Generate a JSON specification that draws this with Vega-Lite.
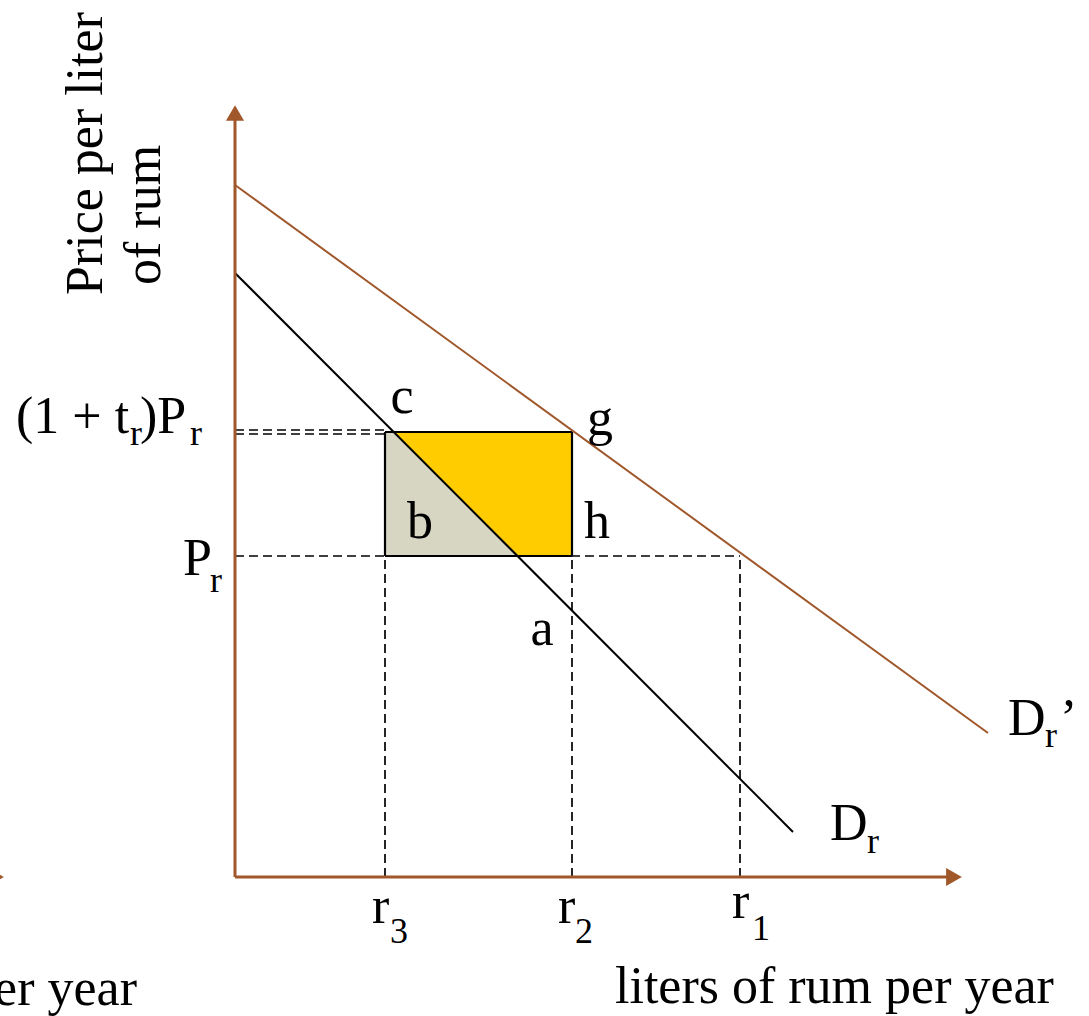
{
  "$schema": "https://vega.github.io/schema/vega-lite/v6.json",
  "width": 1089,
  "height": 1016,
  "padding": 0,
  "autosize": {"type": "none"},
  "background": "white",
  "config": {"view": {"stroke": null}},
  "datasets": {
    "gray": [{"q": 150, "p": 445, "p2": 321}, {"q": 159, "p": 445, "p2": 321}, {"q": 283, "p": 321, "p2": 321}],
    "gold": [{"q": 159, "p": 445, "p2": 445}, {"q": 283, "p": 445, "p2": 321}, {"q": 337, "p": 445, "p2": 321}],
    "dashes": [
      {"q": 0, "p": 447, "q2": 150, "p2": 447},
      {"q": 0, "p": 443, "q2": 150, "p2": 443},
      {"q": 0, "p": 321, "q2": 505, "p2": 321},
      {"q": 150, "p": 0, "q2": 150, "p2": 321},
      {"q": 337, "p": 0, "q2": 337, "p2": 321},
      {"q": 505, "p": 0, "q2": 505, "p2": 321}
    ],
    "rect": [
      {"q": 150, "p": 445, "q2": 337, "p2": 445},
      {"q": 150, "p": 321, "q2": 337, "p2": 321},
      {"q": 150, "p": 321, "q2": 150, "p2": 445},
      {"q": 337, "p": 321, "q2": 337, "p2": 445}
    ],
    "curves": [
      {"curve": "Dr", "q": 0, "p": 604, "q2": 558, "p2": 45},
      {"curve": "Dr'", "q": 0, "p": 692, "q2": 753, "p2": 144}
    ],
    "axes": [
      {"q": 0, "p": 0, "q2": 0, "p2": 758},
      {"q": 0, "p": 0, "q2": 713, "p2": 0},
      {"q": -260, "p": 0, "q2": -242, "p2": 0}
    ],
    "arrowUp": [{"q": 0, "p": 764}],
    "arrowRight": [{"q": 719, "p": 0}, {"q": -239, "p": 0}],
    "mainLeft": [
      {"q": -219, "p": 444, "label": "(1 + t"},
      {"q": -95, "p": 444, "label": ")P"},
      {"q": -52, "p": 302, "label": "P"},
      {"q": 137, "p": -46, "label": "r"},
      {"q": 323, "p": -46, "label": "r"},
      {"q": 497, "p": -41, "label": "r"},
      {"q": 595, "p": 37, "label": "D"},
      {"q": 773, "p": 142, "label": "D"},
      {"q": 825, "p": 142, "label": "’"},
      {"q": 380, "p": -126, "label": "liters of rum per year"}
    ],
    "mainCenter": [
      {"q": 167, "p": 464, "label": "c"},
      {"q": 365, "p": 442, "label": "g"},
      {"q": 185, "p": 339, "label": "b"},
      {"q": 362, "p": 339, "label": "h"},
      {"q": 307, "p": 232, "label": "a"}
    ],
    "sub": [
      {"q": -105, "p": 432, "label": "r"},
      {"q": -45, "p": 432, "label": "r"},
      {"q": -25, "p": 285, "label": "r"},
      {"q": 155, "p": -66, "label": "3"},
      {"q": 340, "p": -66, "label": "2"},
      {"q": 517, "p": -63, "label": "1"},
      {"q": 632, "p": 24, "label": "r"},
      {"q": 810, "p": 130, "label": "r"}
    ],
    "cut": [{"q": -98, "p": -128, "label": "liters of rum per year"}],
    "ytitle": [
      {"q": -133, "p": 582, "label": "Price per liter"},
      {"q": -75, "p": 592, "label": "of rum"}
    ]
  },
  "encoding": {
    "x": {"field": "q", "type": "quantitative", "scale": {"domain": [-235, 854], "nice": false, "zero": false}, "axis": null},
    "y": {"field": "p", "type": "quantitative", "scale": {"domain": [-139, 877], "nice": false, "zero": false}, "axis": null}
  },
  "layer": [
    {
      "data": {"name": "gray"},
      "mark": {"type": "area", "orient": "vertical", "color": "#D6D6C3"},
      "encoding": {"y2": {"field": "p2"}}
    },
    {
      "data": {"name": "gold"},
      "mark": {"type": "area", "orient": "vertical", "color": "#FFCC00"},
      "encoding": {"y2": {"field": "p2"}}
    },
    {
      "data": {"name": "dashes"},
      "mark": {"type": "rule", "color": "black", "strokeWidth": 1.7, "strokeDash": [9, 5]},
      "encoding": {"x2": {"field": "q2"}, "y2": {"field": "p2"}}
    },
    {
      "data": {"name": "rect"},
      "mark": {"type": "rule", "color": "black", "strokeWidth": 2.2},
      "encoding": {"x2": {"field": "q2"}, "y2": {"field": "p2"}}
    },
    {
      "data": {"name": "curves"},
      "mark": {"type": "rule", "strokeWidth": 2},
      "encoding": {
        "x2": {"field": "q2"},
        "y2": {"field": "p2"},
        "color": {"field": "curve", "type": "nominal", "scale": {"domain": ["Dr", "Dr'"], "range": ["#000000", "#A0572A"]}, "legend": null}
      }
    },
    {
      "data": {"name": "axes"},
      "mark": {"type": "rule", "color": "#A0572A", "strokeWidth": 3},
      "encoding": {"x2": {"field": "q2"}, "y2": {"field": "p2"}}
    },
    {
      "data": {"name": "arrowUp"},
      "mark": {"type": "point", "shape": "triangle-up", "size": 330, "filled": true, "color": "#A0572A", "opacity": 1}
    },
    {
      "data": {"name": "arrowRight"},
      "mark": {"type": "point", "shape": "triangle-right", "size": 330, "filled": true, "color": "#A0572A", "opacity": 1}
    },
    {
      "data": {"name": "mainLeft"},
      "mark": {"type": "text", "font": "Liberation Serif", "fontSize": 52, "align": "left", "baseline": "alphabetic", "color": "black"},
      "encoding": {"text": {"field": "label"}}
    },
    {
      "data": {"name": "mainCenter"},
      "mark": {"type": "text", "font": "Liberation Serif", "fontSize": 52, "align": "center", "baseline": "alphabetic", "color": "black"},
      "encoding": {"text": {"field": "label"}}
    },
    {
      "data": {"name": "sub"},
      "mark": {"type": "text", "font": "Liberation Serif", "fontSize": 36, "align": "left", "baseline": "alphabetic", "color": "black"},
      "encoding": {"text": {"field": "label"}}
    },
    {
      "data": {"name": "cut"},
      "mark": {"type": "text", "font": "Liberation Serif", "fontSize": 52, "align": "right", "baseline": "alphabetic", "color": "black"},
      "encoding": {"text": {"field": "label"}}
    },
    {
      "data": {"name": "ytitle"},
      "mark": {"type": "text", "font": "Liberation Serif", "fontSize": 52, "align": "left", "baseline": "alphabetic", "angle": 270, "color": "black"},
      "encoding": {"text": {"field": "label"}}
    }
  ]
}
